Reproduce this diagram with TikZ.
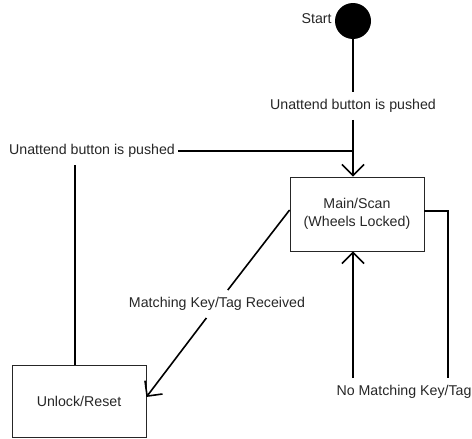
\documentclass[tikz,border=0pt]{standalone}
\usepackage{fontspec}
\setmainfont{Liberation Sans}
\usetikzlibrary{arrows.meta}
\begin{document}
\begin{tikzpicture}[x=1pt,y=-1pt,
  every node/.style={font=\fontsize{14.2pt}{18.5pt}\selectfont, text=black!85},
  statebox/.style={draw=black!85, line width=0.8pt, minimum width=134pt, align=center},
  edgelbl/.style={inner xsep=2pt, inner ysep=7pt, text height=10.5pt, text depth=3pt},
  conn/.style={line width=1.6pt, black},
  arr/.style={conn, -{Straight Barb[length=11pt, width=22pt, line width=1.6pt]}}
]
\useasboundingbox (0,0) rectangle (472,439);

\node[circle, fill=black, minimum size=36pt, inner sep=0pt] (start) at (353,21) {};
\node[anchor=east, inner sep=0pt] (startlbl) at ([xshift=-3pt,yshift=2pt]start.west) {Start};

\node[statebox, minimum height=74pt] (main) at (357,214) {Main/Scan\\(Wheels Locked)};
\node[statebox, minimum height=72pt] (unlock) at (79,401) {Unlock/Reset};

\node[edgelbl] (lblA) at (353,106) {Unattend button is pushed};
\node[edgelbl, inner xsep=3pt] (lblB) at (92,151) {Unattend button is pushed};
\node[edgelbl] (lblC) at (217,304) {Matching Key/Tag Received};
\node[edgelbl] (lblD) at (404,392) {No Matching Key/Tag};

% Start -> Main
\draw[conn] (start.south) -- (lblA.north);
\draw[arr] (lblA.south) -- (lblA.south |- main.north);

% Unlock -> Main (via left label)
\draw[conn] ([xshift=-4pt]unlock.north) -- ([xshift=-4pt]unlock.north |- lblB.south);
\draw[conn] (lblB.east) -- (lblB.east -| lblA.south);

% Main -> Unlock
\draw[conn] ([yshift=4pt]main.west) -- (lblC);
\draw[arr] (lblC) -- ([yshift=4pt]unlock.east);

% Main -> Main (no match)
\draw[conn] ([yshift=3pt]main.east) -| ([xshift=44pt]lblD.north);
\draw[arr] ([xshift=-51pt]lblD.north) -- ([xshift=-51pt]lblD.north |- main.south);
\end{tikzpicture}
\end{document}
